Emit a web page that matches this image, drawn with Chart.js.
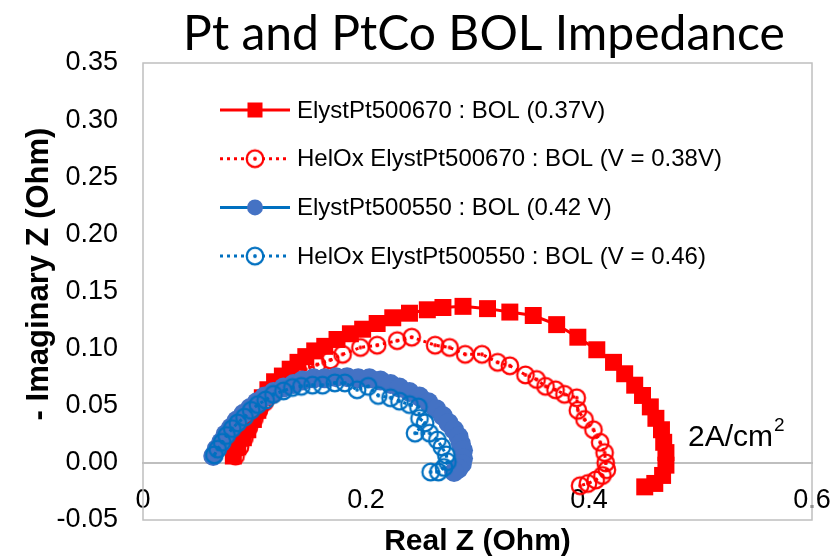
<!DOCTYPE html>
<html>
<head>
<meta charset="utf-8">
<title>Pt and PtCo BOL Impedance</title>
<script src="https://cdn.jsdelivr.net/npm/chart.js"></script>
<style>
    html, body { margin: 0; padding: 0; background: #ffffff; }
    #wrap { width: 840px; height: 557px; }
</style>
</head>
<body>
<div id="wrap"><canvas id="impedanceChart" width="840" height="557"></canvas></div>
<script>
const chartTitle = 'Pt and PtCo BOL Impedance';
const xTitle = 'Real Z (Ohm)';
const yTitle = '- Imaginary Z (Ohm)';
const currentNote = '2A/cm';

const seriesLabels = [
    'ElystPt500670 : BOL (0.37V)',
    'HelOx ElystPt500670 : BOL (V = 0.38V)',
    'ElystPt500550 : BOL (0.42 V)',
    'HelOx ElystPt500550 : BOL (V = 0.46)'
];

const xTickValues = [0, 0.2, 0.4, 0.6];
const yTickValues = [-0.05, 0, 0.05, 0.10, 0.15, 0.20, 0.25, 0.30, 0.35];

// ElystPt500670 : BOL (0.37V)
const pt670Re = [0.081, 0.085, 0.090, 0.094, 0.099, 0.103, 0.107, 0.112, 0.118, 0.125, 0.132, 0.139, 0.146, 0.154, 0.163,
    0.174, 0.186, 0.197, 0.210, 0.224, 0.239, 0.255, 0.269, 0.287, 0.309, 0.329, 0.350, 0.371, 0.390, 0.407,
    0.422, 0.432, 0.441, 0.448, 0.455, 0.460, 0.465, 0.467, 0.469, 0.469, 0.466, 0.459, 0.450];
const pt670Im = [0.006, 0.014, 0.022, 0.029, 0.038, 0.046, 0.057, 0.064, 0.071, 0.076, 0.082, 0.088, 0.093, 0.098, 0.102,
    0.108, 0.113, 0.117, 0.122, 0.127, 0.131, 0.134, 0.136, 0.137, 0.135, 0.132, 0.129, 0.121, 0.110, 0.099,
    0.088, 0.078, 0.068, 0.059, 0.049, 0.039, 0.029, 0.018, 0.009, -0.002, -0.011, -0.018, -0.021];

// HelOx ElystPt500670 : BOL (V = 0.38V)
const helox670Re = [0.083, 0.087, 0.091, 0.095, 0.100, 0.104, 0.109, 0.116, 0.122, 0.129, 0.137, 0.146, 0.156, 0.168,
    0.179, 0.195, 0.210, 0.228, 0.241, 0.262, 0.275, 0.289, 0.304, 0.318, 0.329, 0.343, 0.353, 0.361, 0.370,
    0.378, 0.389, 0.390, 0.396, 0.404, 0.410, 0.414, 0.415, 0.416, 0.412, 0.406, 0.399, 0.392];
const helox670Im = [0.006, 0.014, 0.022, 0.031, 0.039, 0.046, 0.053, 0.060, 0.066, 0.072, 0.077, 0.082, 0.086, 0.090,
    0.095, 0.101, 0.103, 0.107, 0.110, 0.103, 0.101, 0.095, 0.095, 0.088, 0.085, 0.077, 0.073, 0.067, 0.064,
    0.060, 0.057, 0.046, 0.038, 0.029, 0.018, 0.009, 0.000, -0.006, -0.011, -0.015, -0.018, -0.020];

// ElystPt500550 : BOL (0.42 V)
const pt550Re = [0.063, 0.066, 0.070, 0.074, 0.079, 0.084, 0.090, 0.096, 0.102, 0.109, 0.117, 0.126, 0.135, 0.143, 0.153,
    0.163, 0.173, 0.183, 0.193, 0.203, 0.213, 0.222, 0.230, 0.239, 0.248, 0.256, 0.263, 0.269, 0.274, 0.279,
    0.283, 0.285, 0.287, 0.287, 0.286, 0.283, 0.279];
const pt550Im = [0.006, 0.012, 0.018, 0.025, 0.031, 0.037, 0.043, 0.048, 0.053, 0.058, 0.062, 0.066, 0.069, 0.072, 0.074,
    0.074, 0.075, 0.075, 0.074, 0.074, 0.072, 0.069, 0.066, 0.062, 0.058, 0.053, 0.047, 0.041, 0.035, 0.029,
    0.023, 0.017, 0.011, 0.004, -0.001, -0.005, -0.008];

// HelOx ElystPt500550 : BOL (V = 0.46)
const helox550Re = [0.064, 0.067, 0.071, 0.075, 0.080, 0.085, 0.091, 0.097, 0.103, 0.110, 0.117, 0.126, 0.134, 0.142,
    0.152, 0.161, 0.172, 0.181, 0.192, 0.202, 0.211, 0.222, 0.230, 0.239, 0.247, 0.248, 0.253, 0.244, 0.257,
    0.264, 0.268, 0.272, 0.273, 0.270, 0.265, 0.258];
const helox550Im = [0.007, 0.012, 0.018, 0.024, 0.030, 0.035, 0.040, 0.046, 0.051, 0.055, 0.060, 0.063, 0.066, 0.067,
    0.068, 0.068, 0.070, 0.070, 0.064, 0.067, 0.059, 0.057, 0.054, 0.051, 0.049, 0.039, 0.035, 0.026, 0.026,
    0.020, 0.014, 0.007, 0.001, -0.004, -0.008, -0.008];

function toPoints(xs, ys) {
    return xs.map((x, i) => ({ x: x, y: ys[i] }));
}

// hollow circle with a dot in the middle, used as point style
function ringDot(color) {
    const c = document.createElement('canvas');
    c.width = 22;
    c.height = 22;
    const g = c.getContext('2d');
    g.strokeStyle = color;
    g.lineWidth = 2.2;
    g.beginPath();
    g.arc(11, 11, 8.3, 0, Math.PI * 2);
    g.stroke();
    g.fillStyle = color;
    g.beginPath();
    g.arc(11, 11, 1.9, 0, Math.PI * 2);
    g.fill();
    return c;
}

// keep the scales from asking for extra room around the plot area
function noScalePadding(scale) {
    scale.paddingLeft = 0;
    scale.paddingRight = 0;
    scale.paddingTop = 0;
    scale.paddingBottom = 0;
}

const RED = '#ff0000';
const BLUE_LINE = '#0070c0';
const BLUE_FILL = '#4472c4';
const FONT = '"Liberation Sans", Arial, sans-serif';

const plotBorder = {
    id: 'plotBorder',
    beforeDatasetsDraw(chart) {
        const { ctx, chartArea: a } = chart;
        ctx.save();
        ctx.strokeStyle = '#bfbfbf';
        ctx.lineWidth = 1.5;
        ctx.strokeRect(a.left, a.top, a.right - a.left, a.bottom - a.top);
        ctx.restore();
    }
};

const extraText = {
    id: 'extraText',
    afterDraw(chart) {
        const { ctx, chartArea: a } = chart;
        ctx.save();
        ctx.fillStyle = '#000000';

        // chart title, fitted to the width it has in the reference
        ctx.font = '50px Lato';
        const w = ctx.measureText(chartTitle).width;
        ctx.font = (50 * 602 / w).toFixed(1) + 'px Lato';
        ctx.textAlign = 'center';
        ctx.textBaseline = 'alphabetic';
        ctx.fillText(chartTitle, 484, 50);

        // x axis title
        ctx.font = 'bold 30px ' + FONT;
        ctx.fillText(xTitle, (a.left + a.right) / 2, 550);

        // y axis title
        ctx.save();
        ctx.translate(39, 274);
        ctx.rotate(-Math.PI / 2);
        ctx.font = 'bold 31px ' + FONT;
        ctx.textBaseline = 'middle';
        ctx.fillText(yTitle, 0, 0);
        ctx.restore();

        // current density note
        ctx.textAlign = 'left';
        ctx.font = '30px ' + FONT;
        ctx.fillText(currentNote, 688, 446);
        const nw = ctx.measureText(currentNote).width;
        ctx.font = '19px ' + FONT;
        ctx.fillText('2', 688 + nw + 1, 431);

        // legend inside the plot
        ctx.font = '24px ' + FONT;
        ctx.textBaseline = 'middle';
        chart.data.datasets.forEach((ds, i) => {
            const y = 110 + i * 48.7;
            const x0 = 220, x1 = 290, xm = 255;
            ctx.save();
            ctx.strokeStyle = ds.borderColor;
            ctx.lineWidth = ds.borderWidth;
            ctx.setLineDash(ds.borderDash || []);
            ctx.beginPath();
            ctx.moveTo(x0, y);
            ctx.lineTo(x1, y);
            ctx.stroke();
            ctx.restore();
            if (ds.pointStyle instanceof HTMLCanvasElement) {
                ctx.fillStyle = '#ffffff';
                ctx.beginPath();
                ctx.arc(xm, y, 7, 0, Math.PI * 2);
                ctx.fill();
                ctx.drawImage(ds.pointStyle, xm - 11, y - 11);
            } else if (ds.pointStyle === 'rect') {
                ctx.fillStyle = ds.pointBackgroundColor;
                ctx.fillRect(xm - 7.5, y - 7.5, 15, 15);
            } else {
                ctx.fillStyle = ds.pointBackgroundColor;
                ctx.beginPath();
                ctx.arc(xm, y, 8, 0, Math.PI * 2);
                ctx.fill();
            }
            ctx.fillStyle = '#000000';
            ctx.fillText(ds.label, 297, y + 1);
        });
        ctx.restore();
    }
};

Chart.defaults.font.family = FONT;
Chart.defaults.color = '#000000';

new Chart(document.getElementById('impedanceChart'), {
    type: 'scatter',
    data: {
        datasets: [{
            label: seriesLabels[0],
            data: toPoints(pt670Re, pt670Im),
            showLine: true,
            borderColor: RED,
            borderWidth: 3,
            pointStyle: 'rect',
            pointRadius: 12,
            pointBackgroundColor: RED,
            pointBorderWidth: 0,
            order: 4
        }, {
            label: seriesLabels[1],
            data: toPoints(helox670Re, helox670Im),
            showLine: true,
            borderColor: RED,
            borderWidth: 3,
            borderDash: [3, 4],
            pointStyle: ringDot(RED),
            pointRadius: 9,
            order: 3
        }, {
            label: seriesLabels[2],
            data: toPoints(pt550Re, pt550Im),
            showLine: true,
            borderColor: BLUE_LINE,
            borderWidth: 3,
            pointStyle: 'circle',
            pointRadius: 10,
            pointBackgroundColor: BLUE_FILL,
            pointBorderColor: BLUE_FILL,
            pointBorderWidth: 0,
            order: 2
        }, {
            label: seriesLabels[3],
            data: toPoints(helox550Re, helox550Im),
            showLine: true,
            borderColor: BLUE_LINE,
            borderWidth: 3,
            borderDash: [3, 4],
            pointStyle: ringDot(BLUE_LINE),
            pointRadius: 9,
            order: 1
        }]
    },
    options: {
        responsive: false,
        animation: false,
        events: [],
        layout: { padding: { left: 0, right: 28, top: 63, bottom: 37 } },
        plugins: {
            legend: { display: false },
            tooltip: { enabled: false },
            title: { display: false }
        },
        scales: {
            x: {
                type: 'linear',
                axis: 'x',
                position: { y: 0 },
                min: 0,
                max: 0.6,
                afterBuildTicks: (scale) => { scale.ticks = xTickValues.map(v => ({ value: v })); },
                afterFit: noScalePadding,
                ticks: {
                    font: { size: 27 },
                    padding: 21,
                    callback: (v) => String(v)
                },
                grid: { display: false, drawTicks: false },
                border: { display: true, color: '#bfbfbf', width: 2 }
            },
            y: {
                type: 'linear',
                position: 'left',
                min: -0.05,
                max: 0.35,
                afterBuildTicks: (scale) => { scale.ticks = yTickValues.map(v => ({ value: v })); },
                afterFit: (scale) => { scale.width = 143; noScalePadding(scale); },
                ticks: {
                    font: { size: 27 },
                    padding: 25,
                    callback: (v) => v.toFixed(2)
                },
                grid: { display: false, drawTicks: false },
                border: { display: false }
            }
        }
    },
    plugins: [plotBorder, extraText]
});
</script>
</body>
</html>
